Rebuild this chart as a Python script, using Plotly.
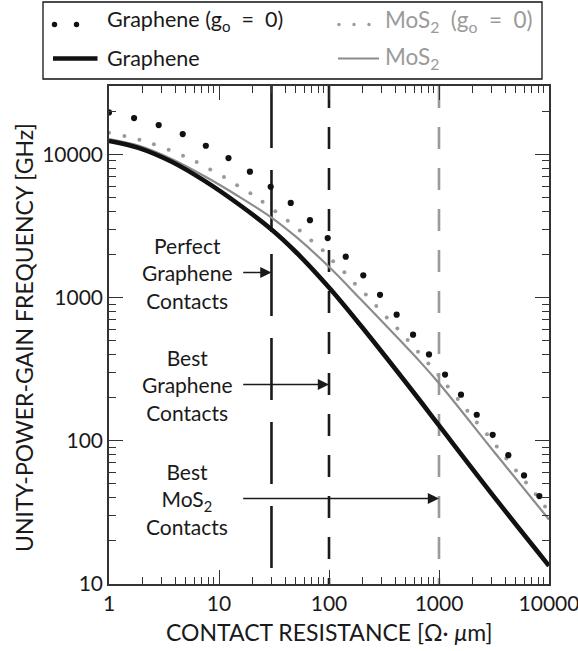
import math
import plotly.graph_objects as go

# ---------------- data ----------------
graphene_x = [1, 1.85, 3.71, 7.46, 15, 30, 50, 100, 191, 584, 1000, 3345, 10000]
graphene_y = [12400, 11100, 8870, 6500, 4500, 2990, 2080, 1175, 648, 219, 128, 38.5, 13.4]

mos2_x = [1, 1.85, 3.71, 7.46, 15, 30, 50, 100, 191, 671, 1000, 3345, 10000]
mos2_y = [12800, 11500, 9270, 7000, 5100, 3620, 2660, 1640, 985, 357, 252, 79.5, 28.2]

graphene_g0_x = [1, 1.69, 2.83, 4.68, 7.59, 12.2, 19.1, 29.5, 44.9, 67.1, 97.3, 142,
                 205, 291, 412, 581, 811, 1135, 1585, 2203, 3076, 4266, 5929, 8166]
graphene_g0_y = [19630, 17910, 16000, 13840, 11480, 9420, 7570, 5940, 4580, 3470, 2600, 1930,
                 1430, 1045, 759, 551, 401, 290, 210, 152, 110, 79.4, 57.3, 41.1]

mos2_g0_x = [1.0, 1.38, 1.89, 2.56, 3.49, 4.71, 6.27, 8.33, 11.1, 14.6, 19.3, 24.9, 32.5,
             42.2, 54.2, 69.0, 87.7, 109, 138, 172, 216, 269, 335, 418, 519, 644, 800,
             986, 1200, 1480, 1810, 2210, 2730, 3350, 4090, 5010, 6180, 7570, 9200]
mos2_g0_y = [14150, 13420, 12640, 11740, 10770, 9780, 8840, 7850, 6950, 6080, 5350, 4660, 4010,
             3440, 2940, 2500, 2140, 1790, 1500, 1250, 1050, 873, 726, 607, 506, 419, 347,
             288, 239, 196, 162, 134, 111, 91.2, 75.3, 62.1, 51.2, 42.3, 34.7]

contact_values = [30, 100, 1000]
contact_labels = ["Perfect<br>Graphene<br>Contacts",
                  "Best<br>Graphene<br>Contacts",
                  "Best<br>MoS<sub>2</sub><br>Contacts"]

x_ticks = [1, 10, 100, 1000, 10000]
x_ticktext = ["1", "10", "100", "1000", "10000"]
y_ticks = [10, 100, 1000, 10000]
y_ticktext = ["10", "100", "1000", "10000"]

X_RANGE = [1, 10000]
Y_RANGE = [10, 30000]

# ---------------- styling ----------------
FONT = "Lato"
TXT = "#1a1a1a"
AX = "#333333"
GRAY_LINE = "#8c8c8c"
GRAY_DOT = "#9a9a9a"
NB = "\u00a0"

fig = go.Figure()

# vertical contact-resistance lines
vstyles = [
    dict(color="#1a1a1a", width=2.6, dash="62px,22px"),
    dict(color="#1a1a1a", width=2.6, dash="22px,19px"),
    dict(color="#9a9a9a", width=2.6, dash="22px,19px"),
]
for c, st in zip(contact_values, vstyles):
    fig.add_trace(go.Scatter(x=[c, c], y=[Y_RANGE[1], Y_RANGE[0]], mode="lines",
                             line=st, hoverinfo="skip", showlegend=False))

# curves
fig.add_trace(go.Scatter(x=mos2_x, y=mos2_y, mode="lines", name="MoS2",
                         line=dict(color=GRAY_LINE, width=2.2, shape="spline", smoothing=1.0),
                         showlegend=False))
fig.add_trace(go.Scatter(x=graphene_x, y=graphene_y, mode="lines", name="Graphene",
                         line=dict(color="#111111", width=4.6, shape="spline", smoothing=1.0),
                         showlegend=False))
fig.add_trace(go.Scatter(x=mos2_g0_x, y=mos2_g0_y, mode="markers", name="MoS2 (g0=0)",
                         marker=dict(color=GRAY_DOT, size=4), showlegend=False,
                         cliponaxis=True))
fig.add_trace(go.Scatter(x=graphene_g0_x, y=graphene_g0_y, mode="markers", name="Graphene (g0=0)",
                         marker=dict(color="#111111", size=6.2), showlegend=False,
                         cliponaxis=True))

# ---------------- geometry helpers (pixel -> paper) ----------------
L, R, T, B = 109, 549, 86, 584
W, H = R - L, B - T


def px(xp):
    return (xp - L) / W


def py(yp):
    return (B - yp) / H


annotations = []
shapes = []

# contact annotations with arrows
text_rows = [273, 385, 499]
arrow_rows = [272.5, 384.5, 498.5]
arrow_start = 10 ** ((241.7 - L) / W * 4)
for c, lab, ty, ay in zip(contact_values, contact_labels, text_rows, arrow_rows):
    annotations.append(dict(x=px(187), y=py(ty), xref="paper", yref="paper", text=lab,
                            showarrow=False, xanchor="center", yanchor="middle",
                            font=dict(family=FONT, size=21, color=TXT), align="center"))
    annotations.append(dict(x=math.log10(c), y=py(ay), xref="x", yref="paper",
                            axref="x", ax=math.log10(arrow_start), ayref="pixel", ay=0,
                            text="", showarrow=True, arrowhead=2, arrowsize=1.6,
                            arrowwidth=1.4, arrowcolor="#1a1a1a", standoff=0))

# axis titles
annotations.append(dict(x=px(329), y=py(632), xref="paper", yref="paper",
                        text="CONTACT RESISTANCE [Ω· <i>μ</i>m]", showarrow=False,
                        xanchor="center", yanchor="middle",
                        font=dict(family=FONT, size=23, color=TXT)))
annotations.append(dict(x=px(24), y=py(338), xref="paper", yref="paper",
                        text="UNITY-POWER-GAIN FREQUENCY [GHz]", showarrow=False,
                        textangle=-90, xanchor="center", yanchor="middle",
                        font=dict(family=FONT, size=23, color=TXT)))

# manual legend
shapes.append(dict(type="rect", xref="paper", yref="paper", x0=px(43), x1=px(542),
                   y0=py(79), y1=py(2), line=dict(color="#111111", width=1.3),
                   fillcolor="white", layer="above"))
for xc in [54.5, 76.5]:
    shapes.append(dict(type="circle", xref="paper", yref="paper", xsizemode="pixel",
                       ysizemode="pixel", xanchor=px(xc), yanchor=py(24.5),
                       x0=-2.7, x1=2.7, y0=-2.7, y1=2.7, fillcolor="#111111",
                       line=dict(width=0), layer="above"))
for xc in [339, 354, 369]:
    shapes.append(dict(type="circle", xref="paper", yref="paper", xsizemode="pixel",
                       ysizemode="pixel", xanchor=px(xc), yanchor=py(24.5),
                       x0=-1.7, x1=1.7, y0=-1.7, y1=1.7, fillcolor=GRAY_DOT,
                       line=dict(width=0), layer="above"))
shapes.append(dict(type="line", xref="paper", yref="paper", x0=px(53), x1=px(97.5),
                   y0=py(58.5), y1=py(58.5), line=dict(color="#111111", width=4.6),
                   layer="above"))
shapes.append(dict(type="line", xref="paper", yref="paper", x0=px(338), x1=px(379),
                   y0=py(58.5), y1=py(58.5), line=dict(color=GRAY_LINE, width=2.2),
                   layer="above"))

SP2 = NB + NB
leg_items = [
    (104.5, 21, f"Graphene (g<sub>o</sub>{SP2}={SP2}0)", TXT, 21.5),
    (382.5, 21, f"MoS<sub>2</sub>{SP2}(g<sub>o</sub>{SP2}={SP2}0)", "#9a9a9a", 22.5),
    (104.5, 58, "Graphene", TXT, 21.5),
    (382.5, 58, "MoS<sub>2</sub>", "#9a9a9a", 22.5),
]
for xl, yl, t, col, fs in leg_items:
    annotations.append(dict(x=px(xl), y=py(yl), xref="paper", yref="paper", text=t,
                            showarrow=False, xanchor="left", yanchor="middle",
                            font=dict(family=FONT, size=fs, color=col)))

x_minor = [m * 10 ** d for d in range(0, 4) for m in range(2, 10)]
y_minor = [m * 10 ** d for d in range(1, 4) for m in range(2, 10)] + [20000, 30000]

axis_common = dict(type="log", showgrid=False, zeroline=False, showline=True,
                   linecolor=AX, linewidth=1.5, mirror="allticks", ticks="inside",
                   ticklen=14, tickwidth=1.4, tickcolor=AX, ticklabeloverflow="allow",
                   automargin=False,
                   tickfont=dict(family=FONT, size=21, color=TXT))

fig.update_layout(
    width=578, height=651, autosize=False,
    margin=dict(l=L, r=578 - R, t=T, b=651 - B),
    paper_bgcolor="white", plot_bgcolor="white",
    showlegend=False,
    xaxis=dict(range=[math.log10(X_RANGE[0]), math.log10(X_RANGE[1])],
               tickvals=x_ticks, ticktext=x_ticktext,
               minor=dict(tickvals=x_minor, ticks="inside", ticklen=7, tickwidth=1.2,
                          tickcolor=AX, showgrid=False),
               **axis_common),
    yaxis=dict(range=[math.log10(Y_RANGE[0]), math.log10(Y_RANGE[1])],
               tickvals=y_ticks, ticktext=y_ticktext,
               minor=dict(tickvals=y_minor, ticks="inside", ticklen=7, tickwidth=1.2,
                          tickcolor=AX, showgrid=False),
               **axis_common),
    annotations=annotations,
    shapes=shapes,
)

fig.write_html("out.html",
               config={"displayModeBar": False, "responsive": False},
               post_script="document.body.style.margin='0';document.body.style.overflow='hidden';")
